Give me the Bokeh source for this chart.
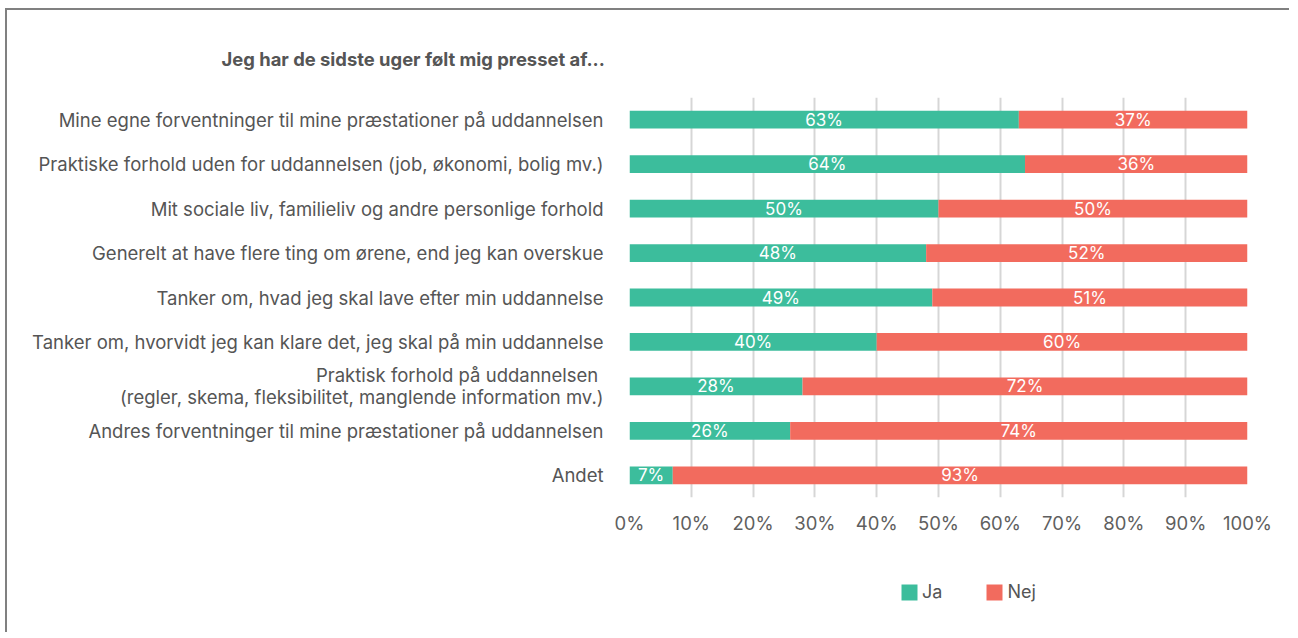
from bokeh.plotting import figure
from bokeh.layouts import column
from bokeh.models import (ColumnDataSource, FactorRange, Range1d, Legend, LegendItem,
                          Title, FixedTicker, PrintfTickFormatter)
from bokeh.core.properties import value
from bokeh.embed import file_html
from bokeh.resources import INLINE

title_text = "Jeg har de sidste uger følt mig presset af..."
categories = [
    "Mine egne forventninger til mine præstationer på uddannelsen",
    "Praktiske forhold uden for uddannelsen (job, økonomi, bolig mv.)",
    "Mit sociale liv, familieliv og andre personlige forhold",
    "Generelt at have flere ting om ørene, end jeg kan overskue",
    "Tanker om, hvad jeg skal lave efter min uddannelse",
    "Tanker om, hvorvidt jeg kan klare det, jeg skal på min uddannelse",
    "Praktisk forhold på uddannelsen \n(regler, skema, fleksibilitet, manglende information mv.)",
    "Andres forventninger til mine præstationer på uddannelsen",
    "Andet",
]
ja = [63, 64, 50, 48, 49, 40, 28, 26, 7]
nej = [37, 36, 50, 52, 51, 60, 72, 74, 93]
series_names = ["Ja", "Nej"]
colors = ["#3cbd9c", "#f26b5e"]
x_ticks = [0, 10, 20, 30, 40, 50, 60, 70, 80, 90, 100]

FONT = "Inter"

src = ColumnDataSource(dict(
    cat=categories, Ja=ja, Nej=nej,
    ja_mid=[a / 2 for a in ja],
    nej_mid=[a + b / 2 for a, b in zip(ja, nej)],
    ja_lab=[f"{a}%" for a in ja],
    nej_lab=[f"{b}%" for b in nej],
))

p = figure(width=1282, height=537, output_backend="svg", toolbar_location=None,
           y_range=FactorRange(factors=list(reversed(categories)), range_padding=0),
           x_range=Range1d(0, 100),
           min_border_left=622, min_border_right=42, min_border_top=87, min_border_bottom=50)
p.outline_line_color = None
p.background_fill_color = "white"

rs = p.hbar_stack(series_names, y="cat", height=0.4, color=colors, source=src, line_color=None)

p.text(x="ja_mid", y="cat", text="ja_lab", source=src, text_color="white",
       text_align="center", text_baseline="middle", text_font=value(FONT), text_font_size="17px")
p.text(x="nej_mid", y="cat", text="nej_lab", source=src, text_color="white",
       text_align="center", text_baseline="middle", text_font=value(FONT), text_font_size="17px")

p.xgrid.ticker = FixedTicker(ticks=x_ticks)
p.xgrid.grid_line_color = "#d6d6d6"
p.xgrid.grid_line_width = 2
p.ygrid.grid_line_color = None

p.xaxis.ticker = FixedTicker(ticks=x_ticks)
p.xaxis.formatter = PrintfTickFormatter(format="%d%%")
p.xaxis.axis_line_color = None
p.xaxis.major_tick_line_color = None
p.xaxis.minor_tick_line_color = None
p.xaxis.major_label_text_font = FONT
p.xaxis.major_label_text_font_size = "18.5px"
p.xaxis.major_label_text_color = "#5f5f5f"
p.xaxis.major_label_standoff = 8

p.yaxis.axis_line_color = None
p.yaxis.major_tick_line_color = None
p.yaxis.minor_tick_line_color = None
p.yaxis.major_label_text_font = FONT
p.yaxis.major_label_text_font_size = "18.5px"
p.yaxis.major_label_text_color = "#555555"
p.yaxis.major_label_text_line_height = 1.0
p.yaxis.major_label_standoff = 20

p.add_layout(Title(text=title_text, align="left", offset=-408, standoff=55,
                   text_font=FONT, text_font_size="18.4px", text_font_style="bold",
                   text_color="#555555"), "above")

# legend strip (frame aligned with the main chart by the column layout)
pl = figure(width=1282, height=85, output_backend="svg", toolbar_location=None,
            x_range=Range1d(0, 1), y_range=Range1d(0, 1), x_axis_type=None, y_axis_type=None,
            min_border_left=622, min_border_right=42, min_border_top=0, min_border_bottom=0)
pl.outline_line_color = None
pl.grid.visible = False
swatches = [pl.hbar(y=[-5], left=[0], right=[1], height=0.4, color=c, line_color=None)
            for c in colors]
legend = Legend(items=[LegendItem(label=n, renderers=[r]) for n, r in zip(series_names, swatches)],
                orientation="horizontal", location=(270, 30), padding=0, margin=0,
                spacing=42, glyph_width=20, glyph_height=20, label_standoff=3,
                label_text_font=FONT, label_text_font_size="18px", label_text_color="#555555",
                border_line_alpha=0, background_fill_alpha=0)
pl.add_layout(legend, "center")

layout = column(p, pl, spacing=0)
layout.styles = {"border-top": "2px solid #808080", "border-left": "2px solid #808080",
                 "margin-left": "5px", "margin-top": "8px"}

open("out.html", "w").write(file_html(layout, INLINE))
